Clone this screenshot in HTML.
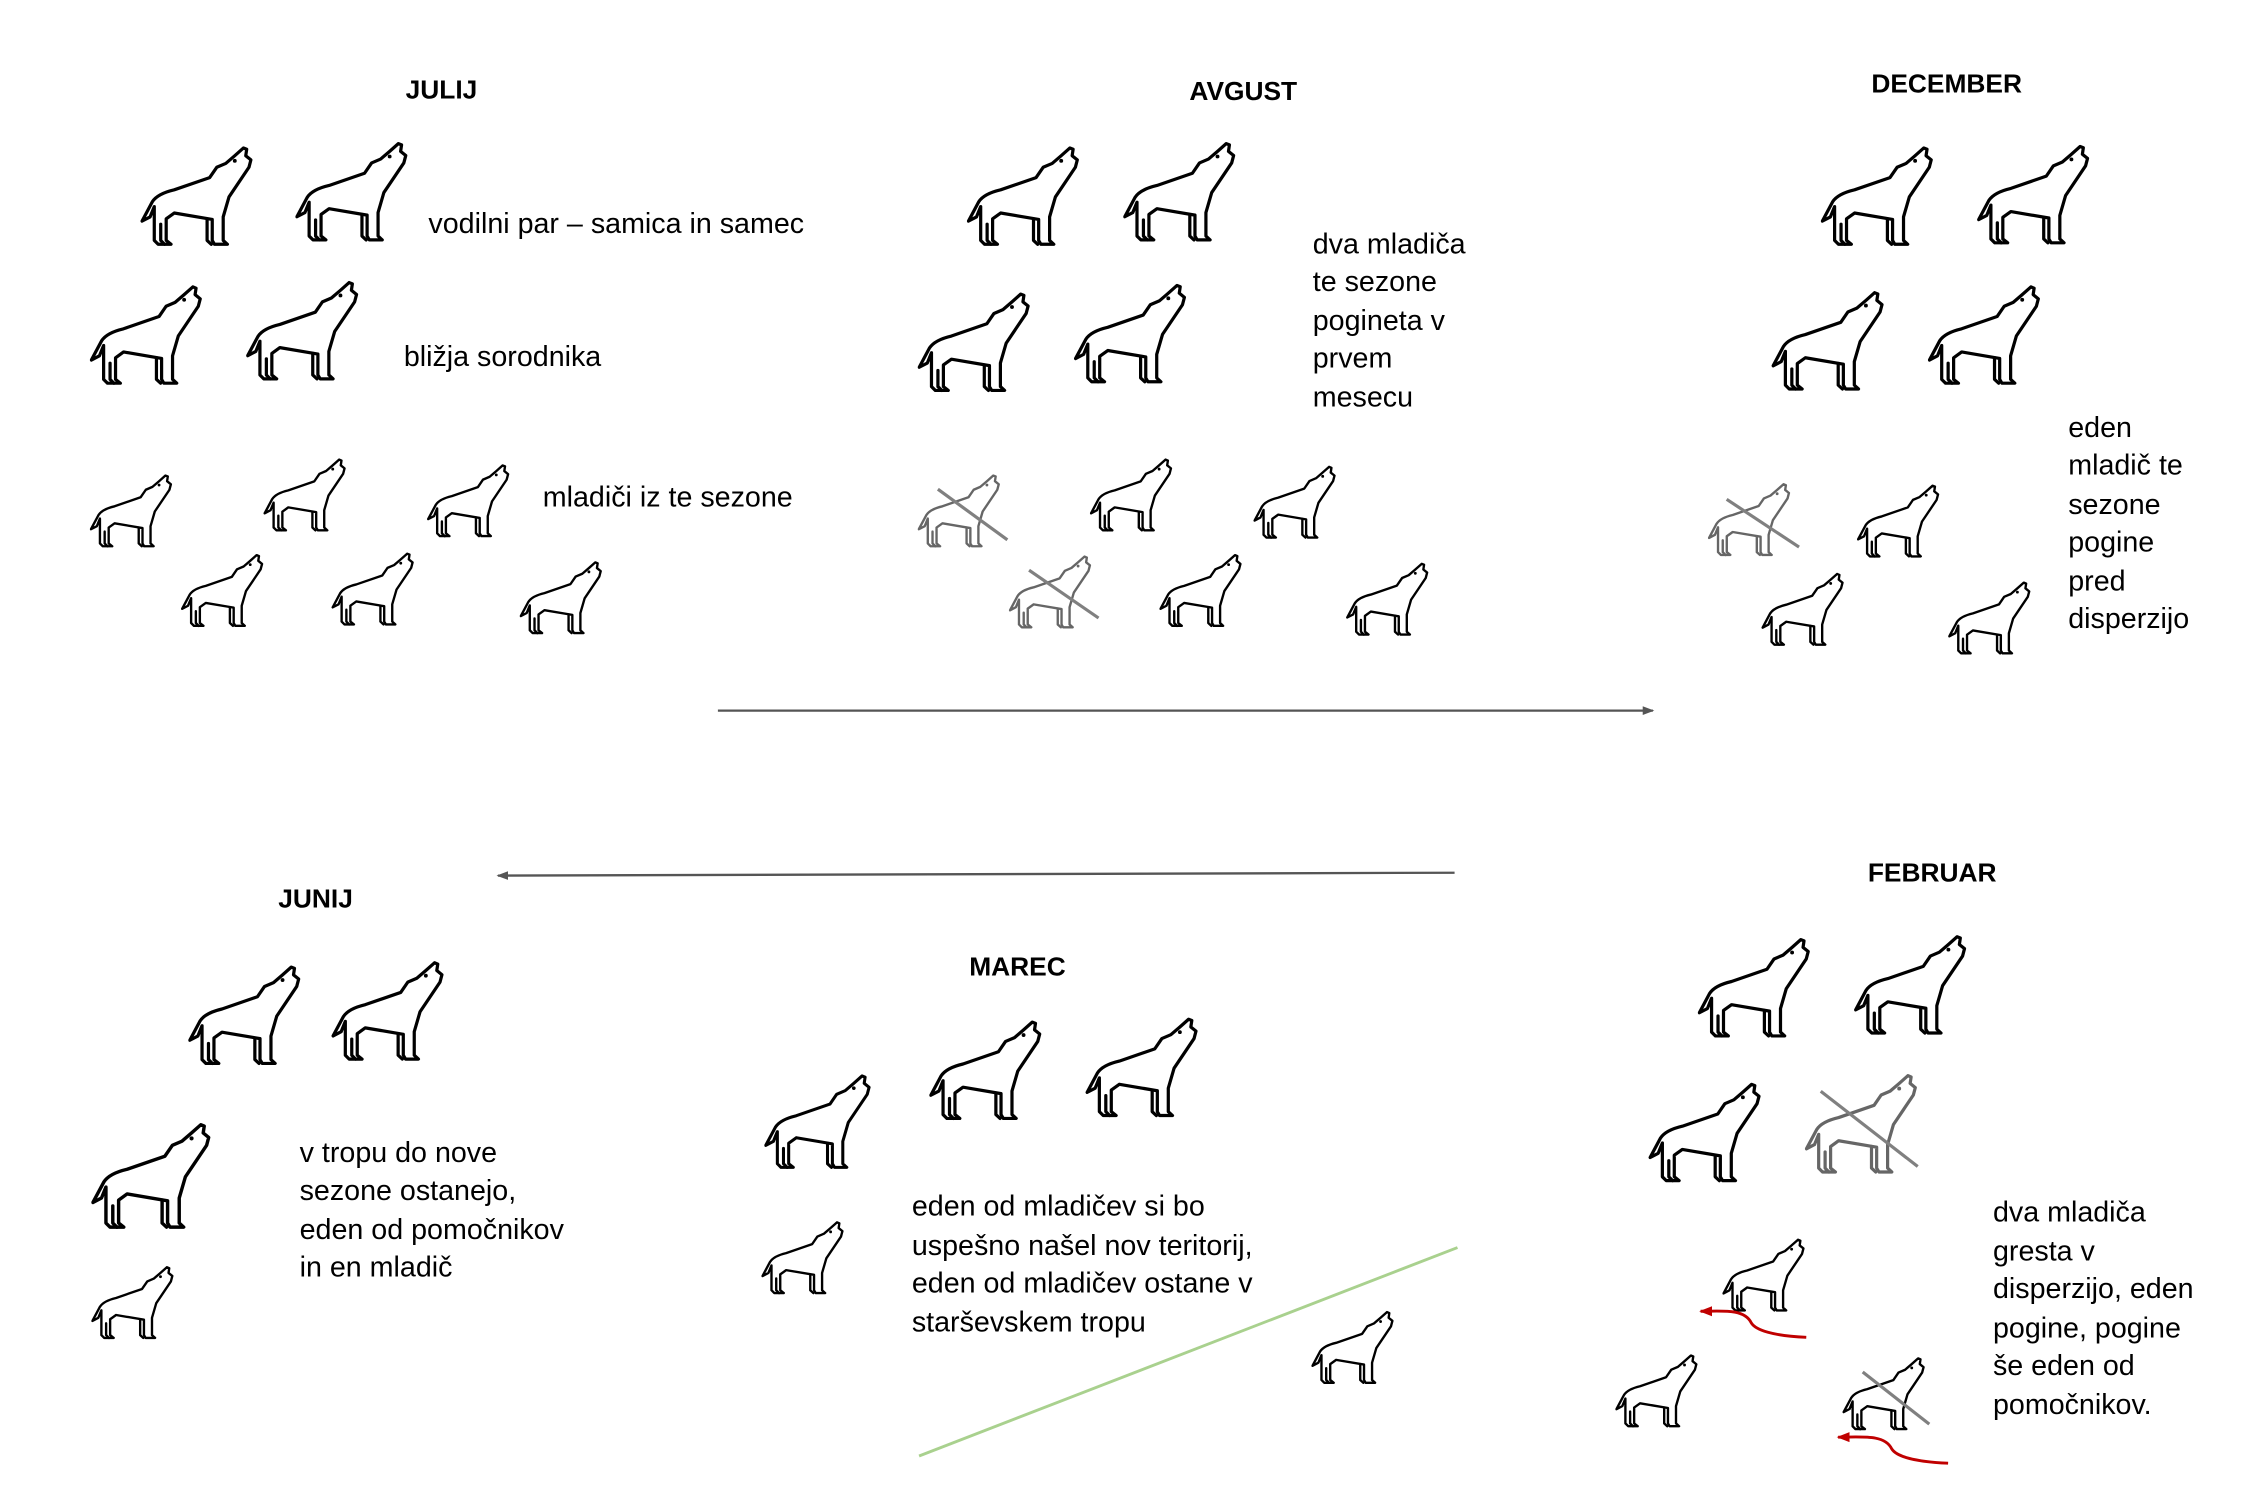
<!DOCTYPE html>
<html><head><meta charset="utf-8"><style>
html,body{margin:0;padding:0;background:#fff;}
svg{display:block;}
text{font-family:"Liberation Sans",sans-serif;font-size:19.8px;fill:#000;}
.t{font-weight:bold;font-size:18.2px;}
</style></head><body>
<svg width="2268" height="1512" viewBox="0 0 1567 1044.7" xmlns="http://www.w3.org/2000/svg">
<defs>
<symbol id="w" viewBox="25 40 355 315">
<g fill="none" stroke-width="10" stroke-linejoin="round" stroke-linecap="round">
<path d="M30,275 L62,215 C75,195 100,185 130,178 L240,140 L262,108 L290,96 L318,72 L345,48 L355,52 L352,72 L368,85 L362,108 L300,200 L282,262 L282,335 L295,347 L255,347 L248,335 L248,270 L130,250 L105,268 L105,335 L120,347 L80,347 L68,335 L68,230 L55,262 Z"/>
<path d="M232,268 L232,335 L245,347 M88,285 L88,335 L100,347"/>
</g>
<circle cx="318" cy="88" r="6" stroke="none"/>
</symbol>
<marker id="ah" markerWidth="8" markerHeight="8" refX="7" refY="4" orient="auto" markerUnits="userSpaceOnUse"><path d="M0,1 L8,4 L0,7 Z" fill="#555"/></marker>
<marker id="ar" markerWidth="9" markerHeight="9" refX="8" refY="4.5" orient="auto" markerUnits="userSpaceOnUse"><path d="M0,1 L9,4.5 L0,8 Z" fill="#c00000"/></marker>
</defs>

<g stroke="#000" fill="#000">
<use href="#w" x="97" y="100" width="79" height="71"/>
<use href="#w" x="204" y="97" width="79" height="71"/>
<use href="#w" x="62" y="196" width="79" height="71"/>
<use href="#w" x="170" y="193" width="79" height="71"/>
<use href="#w" x="62" y="327" width="58" height="52"/>
<use href="#w" x="182" y="316" width="58" height="52"/>
<use href="#w" x="295" y="320" width="58" height="52"/>
<use href="#w" x="125" y="382" width="58" height="52"/>
<use href="#w" x="229" y="381" width="58" height="52"/>
<use href="#w" x="359" y="387" width="58" height="52"/>
<use href="#w" x="668" y="100" width="79" height="71"/>
<use href="#w" x="776" y="97" width="79" height="71"/>
<use href="#w" x="634" y="201" width="79" height="71"/>
<use href="#w" x="742" y="195" width="79" height="71"/>
<use href="#w" x="753" y="316" width="58" height="52"/>
<use href="#w" x="866" y="321" width="58" height="52"/>
<use href="#w" x="801" y="382" width="58" height="52"/>
<use href="#w" x="930" y="388" width="58" height="52"/>
<use href="#w" x="1258" y="100" width="79" height="71"/>
<use href="#w" x="1366" y="99" width="79" height="71"/>
<use href="#w" x="1224" y="200" width="79" height="71"/>
<use href="#w" x="1332" y="196" width="79" height="71"/>
<use href="#w" x="1283" y="334" width="58" height="52"/>
<use href="#w" x="1217" y="395" width="58" height="52"/>
<use href="#w" x="1346" y="401" width="58" height="52"/>
<use href="#w" x="1173" y="647" width="79" height="71"/>
<use href="#w" x="1281" y="645" width="79" height="71"/>
<use href="#w" x="1139" y="747" width="79" height="71"/>
<use href="#w" x="1190" y="855" width="58" height="52"/>
<use href="#w" x="1116" y="935" width="58" height="52"/>
<use href="#w" x="1273" y="937" width="58" height="52"/>
<use href="#w" x="528" y="741" width="75" height="68"/>
<use href="#w" x="642" y="704" width="79" height="71"/>
<use href="#w" x="750" y="702" width="79" height="71"/>
<use href="#w" x="526" y="843" width="58" height="52"/>
<use href="#w" x="906" y="905" width="58" height="52"/>
<use href="#w" x="130" y="666" width="79" height="71"/>
<use href="#w" x="229" y="663" width="79" height="71"/>
<use href="#w" x="63" y="775" width="84" height="75"/>
<use href="#w" x="63" y="874" width="58" height="52"/>
</g>
<g stroke="#666" fill="#666">
<use href="#w" x="634" y="327" width="58" height="52"/>
<use href="#w" x="697" y="383" width="58" height="52"/>
<use href="#w" x="1180" y="333" width="58" height="52"/>
<use href="#w" x="1247" y="741" width="79" height="71"/>
</g>
<g stroke="#808080" stroke-width="2.2">
<line x1="648" y1="338" x2="696" y2="373"/>
<line x1="711" y1="394" x2="759" y2="427"/>
<line x1="1193" y1="345" x2="1243" y2="378"/>
<line x1="1258" y1="754" x2="1325" y2="806"/>
<line x1="1287" y1="948" x2="1333" y2="984"/>
</g>

<line x1="496" y1="491" x2="1142" y2="491" stroke="#555" stroke-width="1.6" marker-end="url(#ah)"/>
<line x1="1005" y1="603" x2="344" y2="605" stroke="#555" stroke-width="1.6" marker-end="url(#ah)"/>
<line x1="635" y1="1006" x2="1007" y2="862" stroke="#a9d18e" stroke-width="2"/>
<path d="M1248,924 C1225,923 1213,919 1210,914 C1205,904 1190,906 1175,906" fill="none" stroke="#c00000" stroke-width="2" marker-end="url(#ar)"/>
<path d="M1346,1011 C1322,1010 1310,1006 1307,1001 C1302,991 1287,993 1270,993" fill="none" stroke="#c00000" stroke-width="2" marker-end="url(#ar)"/>

<text class="t" x="305" y="68" text-anchor="middle">JULIJ</text>
<text class="t" x="859" y="69" text-anchor="middle">AVGUST</text>
<text class="t" x="1345" y="64" text-anchor="middle">DECEMBER</text>
<text class="t" x="1335" y="609" text-anchor="middle">FEBRUAR</text>
<text class="t" x="218" y="627" text-anchor="middle">JUNIJ</text>
<text class="t" x="703" y="674" text-anchor="middle">MAREC</text>

<text x="296" y="161">vodilni par – samica in samec</text>
<text x="279" y="253">bližja sorodnika</text>
<text x="375" y="350">mladiči iz te sezone</text>
<text x="907" y="175">dva mladiča</text>
<text x="907" y="201">te sezone</text>
<text x="907" y="228">pogineta v</text>
<text x="907" y="254">prvem</text>
<text x="907" y="281">mesecu</text>
<text x="1429" y="302">eden</text>
<text x="1429" y="328">mladič te</text>
<text x="1429" y="355">sezone</text>
<text x="1429" y="381">pogine</text>
<text x="1429" y="408">pred</text>
<text x="1429" y="434">disperzijo</text>
<text x="207" y="803">v tropu do nove</text>
<text x="207" y="829">sezone ostanejo,</text>
<text x="207" y="856">eden od pomočnikov</text>
<text x="207" y="882">in en mladič</text>
<text x="630" y="840">eden od mladičev  si bo</text>
<text x="630" y="867">uspešno našel nov teritorij,</text>
<text x="630" y="893">eden od mladičev ostane v</text>
<text x="630" y="920">starševskem tropu</text>
<text x="1377" y="844">dva mladiča</text>
<text x="1377" y="871">gresta v</text>
<text x="1377" y="897">disperzijo, eden</text>
<text x="1377" y="924">pogine, pogine</text>
<text x="1377" y="950">še eden od</text>
<text x="1377" y="977">pomočnikov.</text>
</svg>
</body></html>
